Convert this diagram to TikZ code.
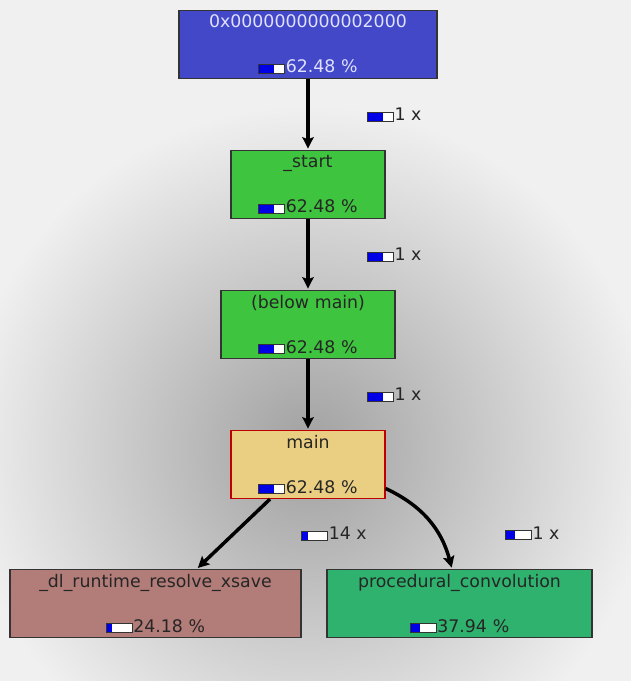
\documentclass[tikz,border=0pt]{standalone}
\usepackage{fontspec}
\setmainfont{DejaVu Sans}
\usetikzlibrary{arrows,arrows.meta,positioning}
\definecolor{fnblue}{RGB}{66,72,200}
\definecolor{fngreen}{RGB}{62,196,62}
\definecolor{fnmain}{RGB}{234,206,130}
\definecolor{fnrose}{RGB}{178,124,120}
\definecolor{fnsea}{RGB}{46,178,110}
\definecolor{barblue}{RGB}{0,0,230}
\definecolor{bglight}{RGB}{240,240,240}
\definecolor{bgdark}{RGB}{160,160,160}
\tikzstyle{fn} = [rectangle, draw=black!80, line width=0.9pt, text=black!85,
    align=center, inner sep=0pt, minimum height=51pt,
    font=\fontsize{13pt}{15pt}\selectfont]
\tikzstyle{cnt} = [anchor=west, inner sep=0pt, text=black!85,
    font=\fontsize{13pt}{15pt}\selectfont]
\newcommand{\costbar}[1]{\tikz[baseline=0pt,-,x=1pt,y=1pt,line width=0.6pt]{%
    \fill[white] (0,-0.5) rectangle (19.5,6.25);
    \fill[barblue] (0,-0.5) rectangle (#1*19.5,6.25);
    \draw[black!80] (0,-0.5) rectangle (19.5,6.25);}\hspace{0.6pt}}

\begin{document}
\begin{tikzpicture}[->,>={Stealth[length=8.5pt,width=8.5pt,inset=1.5pt]},shorten >=1pt,
                    x=0.75pt,y=-0.75pt,node distance=105pt]
  \useasboundingbox (0,0) rectangle (631,681);
  \fill[bglight] (0,0) rectangle (631,681);
  \begin{scope}
    \clip (0,0) rectangle (631,681);
    \shade[inner color=bgdark, outer color=bglight] (308,450) circle (345);
  \end{scope}

  \node[fn,fill=fnblue,text=white!88!blue,text width=193.5pt] (top) at (308,44.5)
       {0x0000000000002000\\[18.75pt]\costbar{.6}62.48 \%};
  \node[fn,fill=fngreen,text width=115.5pt] (start) [below of=top]
       {\_start\\[18.75pt]\costbar{.6}62.48 \%};
  \node[fn,fill=fngreen,text width=130.5pt] (below) [below of=start]
       {(below main)\\[18.75pt]\costbar{.6}62.48 \%};
  \node[fn,fill=fnmain,draw=red!75!black,text width=115.5pt] (main) [below of=below]
       {main\\[18.75pt]\costbar{.6}62.48 \%};
  \node[fn,fill=fnrose,text width=218.25pt] (dl) at (155.5,603.5)
       {\_dl\_runtime\_resolve\_xsave\\[18.75pt]\costbar{.24}24.18 \%};
  \node[fn,fill=fnsea,text width=198.75pt] (conv) at (459.5,603.5)
       {procedural\_convolution\\[18.75pt]\costbar{.38}37.94 \%};

  \path[line width=2.6pt]
        (top) edge node[cnt,xshift=44pt] {\costbar{.62}1 x} (start)
        (start) edge node[cnt,xshift=44pt] {\costbar{.62}1 x} (below)
        (below) edge node[cnt,xshift=44pt] {\costbar{.62}1 x} (main)
        ([xshift=-28.5pt]main.south) edge node[cnt,xshift=50.6pt] {\costbar{.25}14 x} ([xshift=31pt]dl.north)
        ([yshift=-18pt]main.east) edge[out=-25,in=105] node[cnt,xshift=57pt,yshift=-9.75pt] {\costbar{.38}1 x} ([xshift=-5.6pt]conv.north);
\end{tikzpicture}
\end{document}
